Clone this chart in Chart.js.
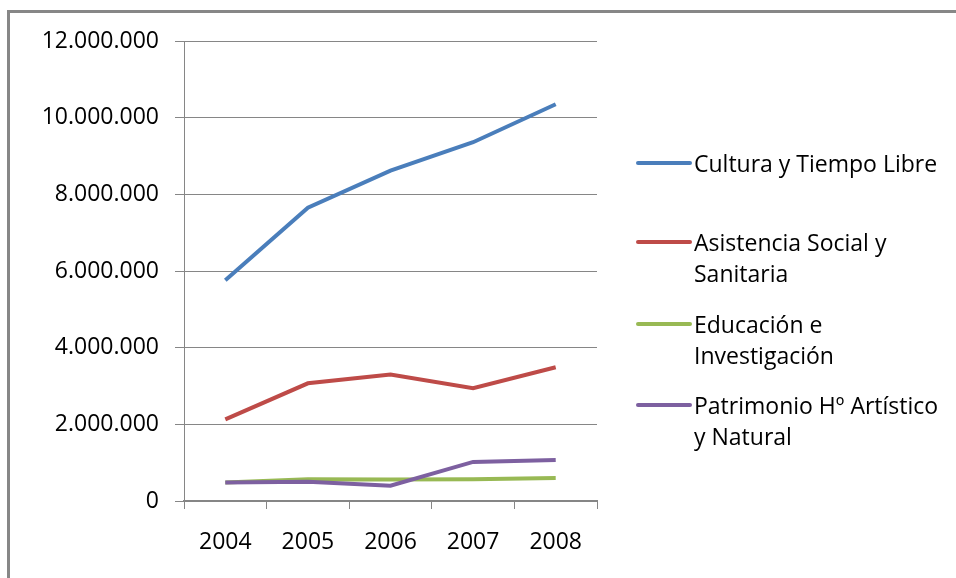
<!DOCTYPE html>
<html>
<head>
<meta charset="utf-8">
<script src="https://cdn.jsdelivr.net/npm/chart.js@4/dist/chart.umd.min.js"></script>
<style>
  html, body { margin: 0; padding: 0; background: #fff; }
  #wrap { position: relative; width: 956px; height: 578px; overflow: hidden; }
  #frame { position: absolute; left: 7px; top: 10px; right: -10px; bottom: -10px;
           border-top: 3px solid #878787; border-left: 3px solid #878787; }
  #chart { position: absolute; left: 0; top: 0; }
  #legend { position: absolute; left: 636px; top: 0; font-family: "Open Sans", sans-serif;
            font-size: 23px; color: #000; }
  .item { position: absolute; left: 0; white-space: nowrap; }
  .swatch { position: absolute; left: 0; width: 56px; height: 4px; border-radius: 2px; }
  .text { position: absolute; left: 58px; line-height: 31px; }
</style>
</head>
<body>
<div id="wrap">
  <div id="frame"></div>
  <canvas id="chart" width="956" height="578"></canvas>
  <div id="legend"></div>
</div>
<script>
var years = ['2004', '2005', '2006', '2007', '2008'];

var cultura    = [5760000, 7650000, 8620000, 9360000, 10350000];
var asistencia = [2130000, 3070000, 3300000, 2940000, 3490000];
var educacion  = [480000, 570000, 560000, 570000, 600000];
var patrimonio = [480000, 500000, 400000, 1020000, 1070000];

var seriesNames = [
    ['Cultura y Tiempo Libre'],
    ['Asistencia Social y', 'Sanitaria'],
    ['Educación e', 'Investigación'],
    ['Patrimonio Hº Artístico', 'y Natural']
];
var seriesColors = ['#4a7ebb', '#be4b48', '#98b954', '#7d60a0'];

var yTicks = [0, 2000000, 4000000, 6000000, 8000000, 10000000, 12000000];

function thousands(v) {
    return String(v).replace(/\B(?=(\d{3})+(?!\d))/g, '.');
}

var seriesData = [cultura, asistencia, educacion, patrimonio];
var datasets = seriesData.map(function (d, i) {
    return {
        label: seriesNames[i].join(' '),
        data: d,
        borderColor: seriesColors[i],
        backgroundColor: seriesColors[i],
        borderWidth: 4,
        pointRadius: 0,
        tension: 0,
        fill: false,
        order: 4 - i   // later series drawn on top
    };
});

var tickFont = { family: '"Open Sans", sans-serif', size: 23 };

var chart = new Chart(document.getElementById('chart'), {
    type: 'line',
    data: { labels: years, datasets: datasets },
    options: {
        responsive: false,
        animation: false,
        layout: { padding: { left: 0, top: 41, right: 359, bottom: 0 } },
        plugins: { legend: { display: false }, tooltip: { enabled: false } },
        scales: {
            x: {
                offset: true,
                grid: { offset: true, drawOnChartArea: false, tickLength: 8, color: '#868686' },
                border: { color: '#868686', width: 2 },
                ticks: { color: '#000', font: tickFont, padding: 20, maxRotation: 0 },
                afterFit: function (scale) { scale.height = 77; }
            },
            y: {
                min: 0,
                max: 12000000,
                afterBuildTicks: function (scale) {
                    scale.ticks = yTicks.map(function (v) { return { value: v }; });
                },
                grid: { color: '#868686', tickLength: 9 },
                border: { color: '#868686' },
                ticks: {
                    color: '#000', font: tickFont, padding: 16,
                    callback: function (v) { return thousands(v); }
                },
                afterFit: function (scale) { scale.width = 184; }
            }
        }
    }
});

// legend with wrapped labels, one block per series
var legend = document.getElementById('legend');
var firstLine = [163, 242, 324, 405];
seriesNames.forEach(function (lines, i) {
    var item = document.createElement('div');
    item.className = 'item';
    item.style.top = (firstLine[i] - 15.5) + 'px';
    var sw = document.createElement('div');
    sw.className = 'swatch';
    sw.style.background = seriesColors[i];
    sw.style.top = '13.5px';
    var tx = document.createElement('div');
    tx.className = 'text';
    tx.innerHTML = lines.join('<br>');
    item.appendChild(sw);
    item.appendChild(tx);
    legend.appendChild(item);
});
</script>
</body>
</html>
